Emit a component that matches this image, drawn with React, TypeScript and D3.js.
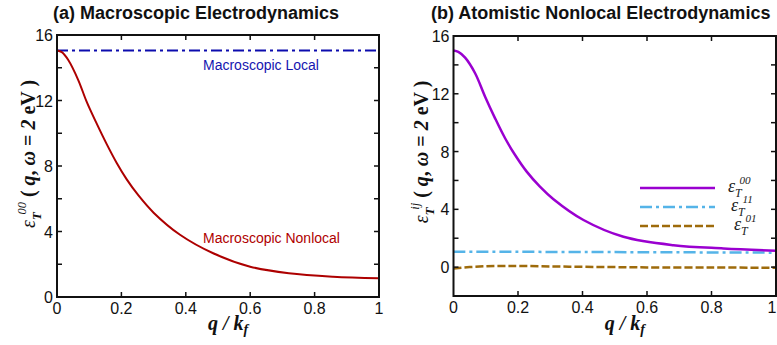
import * as d3 from 'd3';

// panel (a): macroscopic
const qA = [0, 0.015, 0.035, 0.066, 0.092, 0.123, 0.154, 0.185, 0.216, 0.253, 0.3, 0.382, 0.485, 0.6, 0.72, 0.857, 1.0];
const nonlocalA = [15.05, 14.95, 14.47, 13.25, 11.93, 10.6, 9.35, 8.2, 7.2, 6.2, 5.15, 3.8, 2.67, 1.85, 1.45, 1.24, 1.14];
const qLocal = [0, 1];
const localA = [15.05, 15.05];

// panel (b): atomistic
const qB00 = [0, 0.015, 0.036, 0.067, 0.098, 0.129, 0.16, 0.191, 0.227, 0.268, 0.31, 0.403, 0.527, 0.682, 0.837, 1.0];
const eps00B = [15.0, 14.9, 14.5, 13.42, 11.8, 10.3, 8.92, 7.76, 6.61, 5.57, 4.7, 3.26, 2.1, 1.52, 1.29, 1.13];
const qB11 = [0, 0.5, 1.0];
const eps11B = [1.07, 1.04, 1.0];
const qB01 = [0, 0.05, 0.1, 0.15, 0.2, 0.3, 0.4, 0.5, 0.6, 0.8, 1.0];
const eps01B = [-0.1, 0.0, 0.06, 0.08, 0.08, 0.05, 0.02, 0.0, -0.02, -0.03, -0.04];

const xTicks = [0, 0.2, 0.4, 0.6, 0.8, 1];
const xTickLabels = ['0', '0.2', '0.4', '0.6', '0.8', '1'];
const yTicksMajor = [0, 4, 8, 12, 16];

const SANS = 'Liberation Sans, Arial, sans-serif';
const SERIF = 'Liberation Serif, Times New Roman, serif';

type Series = { q: number[]; v: number[]; color: string; width: number; dash?: string };

// ε with subscript T and a superscript stacked just above/after it
function EpsLabel({ sup, size, bold }: { sup: string; size: number; bold?: boolean }) {
  return (
    <>
      <tspan fontStyle="italic" fontWeight="normal">ε</tspan>
      <tspan fontStyle="italic" fontWeight={bold ? 'bold' : 'normal'} fontSize={size * 0.66} dy={size * 0.28}>T</tspan>
      <tspan fontStyle="italic" fontWeight="normal" fontSize={size * 0.62} dx={-size * 0.12} dy={-size * 0.72}>{sup}</tspan>
    </>
  );
}

function Panel(props: {
  left: number; right: number; top: number; bottom: number;
  yDomain: [number, number]; yMinor: number[];
  series: Series[]; title: string; titleX: number;
  sup: string; yLabelX: number; yLabelY: number;
  children?: any;
}) {
  const { left, right, top, bottom, yDomain, yMinor, series } = props;
  const x = d3.scaleLinear().domain([0, 1]).range([left, right]);
  const y = d3.scaleLinear().domain(yDomain).range([bottom, top]);
  const tl = 5;
  const yAll = [...yTicksMajor, ...yMinor].filter(t => t > yDomain[0] && t < yDomain[1]);
  return (
    <g>
      <text x={props.titleX} y={19} fontFamily={SANS} fontWeight="bold" fontSize={18} fill="#111">
        {props.title}
      </text>
      {series.map((s, i) => {
        const line = d3.line<number>()
          .x((_, j) => x(s.q[j]))
          .y(d => y(d))
          .curve(d3.curveCatmullRom.alpha(0.5));
        return (
          <path key={i} d={line(s.v) || ''} fill="none" stroke={s.color}
            strokeWidth={s.width} strokeDasharray={s.dash} />
        );
      })}
      {props.children}
      {/* frame */}
      <rect x={left} y={top} width={right - left} height={bottom - top}
        fill="none" stroke="#111" strokeWidth={2} />
      {xTicks.slice(1, -1).map(t => (
        <g key={t}>
          <line x1={x(t)} x2={x(t)} y1={bottom} y2={bottom - tl} stroke="#111" strokeWidth={1.5} />
          <line x1={x(t)} x2={x(t)} y1={top} y2={top + tl} stroke="#111" strokeWidth={1.5} />
        </g>
      ))}
      {yAll.map(t => (
        <g key={t}>
          <line x1={left} x2={left + tl} y1={y(t)} y2={y(t)} stroke="#111" strokeWidth={1.5} />
          <line x1={right} x2={right - tl} y1={y(t)} y2={y(t)} stroke="#111" strokeWidth={1.5} />
        </g>
      ))}
      {xTicks.map((t, i) => (
        <text key={t} x={t === 1 ? Math.min(x(t), 777 - 5) : x(t)} y={bottom + 17} textAnchor="middle"
          fontFamily={SANS} fontSize={16} fill="#111">
          {xTickLabels[i]}
        </text>
      ))}
      {yTicksMajor.map(t => (
        <text key={t} x={left - 4} y={y(t) + 6} textAnchor="end" fontFamily={SANS} fontSize={16} fill="#111">
          {t}
        </text>
      ))}
      <text x={(left + right) / 2 + 10} y={330} textAnchor="middle" fontFamily={SERIF}
        fontWeight="bold" fontStyle="italic" fontSize={20} fill="#111">
        q / k<tspan fontSize={14} dy={4}>f</tspan>
      </text>
      <text transform={`translate(${props.yLabelX},${props.yLabelY}) rotate(-90)`} textAnchor="middle"
        fontFamily={SERIF} fontWeight="bold" fontSize={20} fill="#111">
        <EpsLabel sup={props.sup} size={20} bold />
        <tspan dy={20 * 0.44}> ( </tspan>
        <tspan fontStyle="italic">q</tspan>
        <tspan>, </tspan>
        <tspan fontStyle="italic">ω</tspan>
        <tspan> = </tspan>
        <tspan fontStyle="italic">2</tspan>
        <tspan> eV )</tspan>
      </text>
    </g>
  );
}

const legendItems = [
  { sup: '00', color: '#9a00d0', width: 2.5, dash: undefined as string | undefined },
  { sup: '11', color: '#55b4e8', width: 2.5, dash: '12,4,3,4' },
  { sup: '01', color: '#9e6b0b', width: 2.5, dash: '8,3' },
];

export default function App() {
  const legendY = [188, 207, 226];
  const legendTextX = [728, 731, 734];
  return (
    <div style={{ position: 'absolute', left: 0, top: 0 }}>
      <svg width={777} height={345} style={{ display: 'block', background: '#fff' }}>
        <Panel left={57} right={379} top={35} bottom={297} yDomain={[0, 16]} yMinor={[2, 6, 10, 14]}
          title="(a)  Macroscopic Electrodynamics" titleX={53} sup="00" yLabelX={35} yLabelY={154}
          series={[
            { q: qLocal, v: localA, color: '#0c0cae', width: 2, dash: '11,4,3,4' },
            { q: qA, v: nonlocalA, color: '#ad0000', width: 2 },
          ]}>
          <text x={203} y={70} fontFamily={SANS} fontSize={14} fill="#1515b0">Macroscopic Local</text>
          <text x={203} y={243} fontFamily={SANS} fontSize={14} fill="#b00000">Macroscopic Nonlocal</text>
        </Panel>
        <Panel left={453.5} right={776} top={36} bottom={296} yDomain={[-2, 16]} yMinor={[2, 6, 10, 14]}
          title="(b) Atomistic Nonlocal Electrodynamics" titleX={431} sup="ij" yLabelX={428} yLabelY={152}
          series={[
            { q: qB11, v: eps11B, color: legendItems[1].color, width: 2.5, dash: legendItems[1].dash },
            { q: qB01, v: eps01B, color: legendItems[2].color, width: 2.5, dash: legendItems[2].dash },
            { q: qB00, v: eps00B, color: legendItems[0].color, width: 2.5 },
          ]}>
          {legendItems.map((it, i) => (
            <g key={it.sup}>
              <line x1={640} x2={715} y1={legendY[i]} y2={legendY[i]} stroke={it.color}
                strokeWidth={it.width} strokeDasharray={it.dash} />
              <text x={legendTextX[i]} y={legendY[i] + 4} fontFamily={SERIF} fontSize={18} fill="#222">
                <EpsLabel sup={it.sup} size={18} />
              </text>
            </g>
          ))}
        </Panel>
      </svg>
    </div>
  );
}
